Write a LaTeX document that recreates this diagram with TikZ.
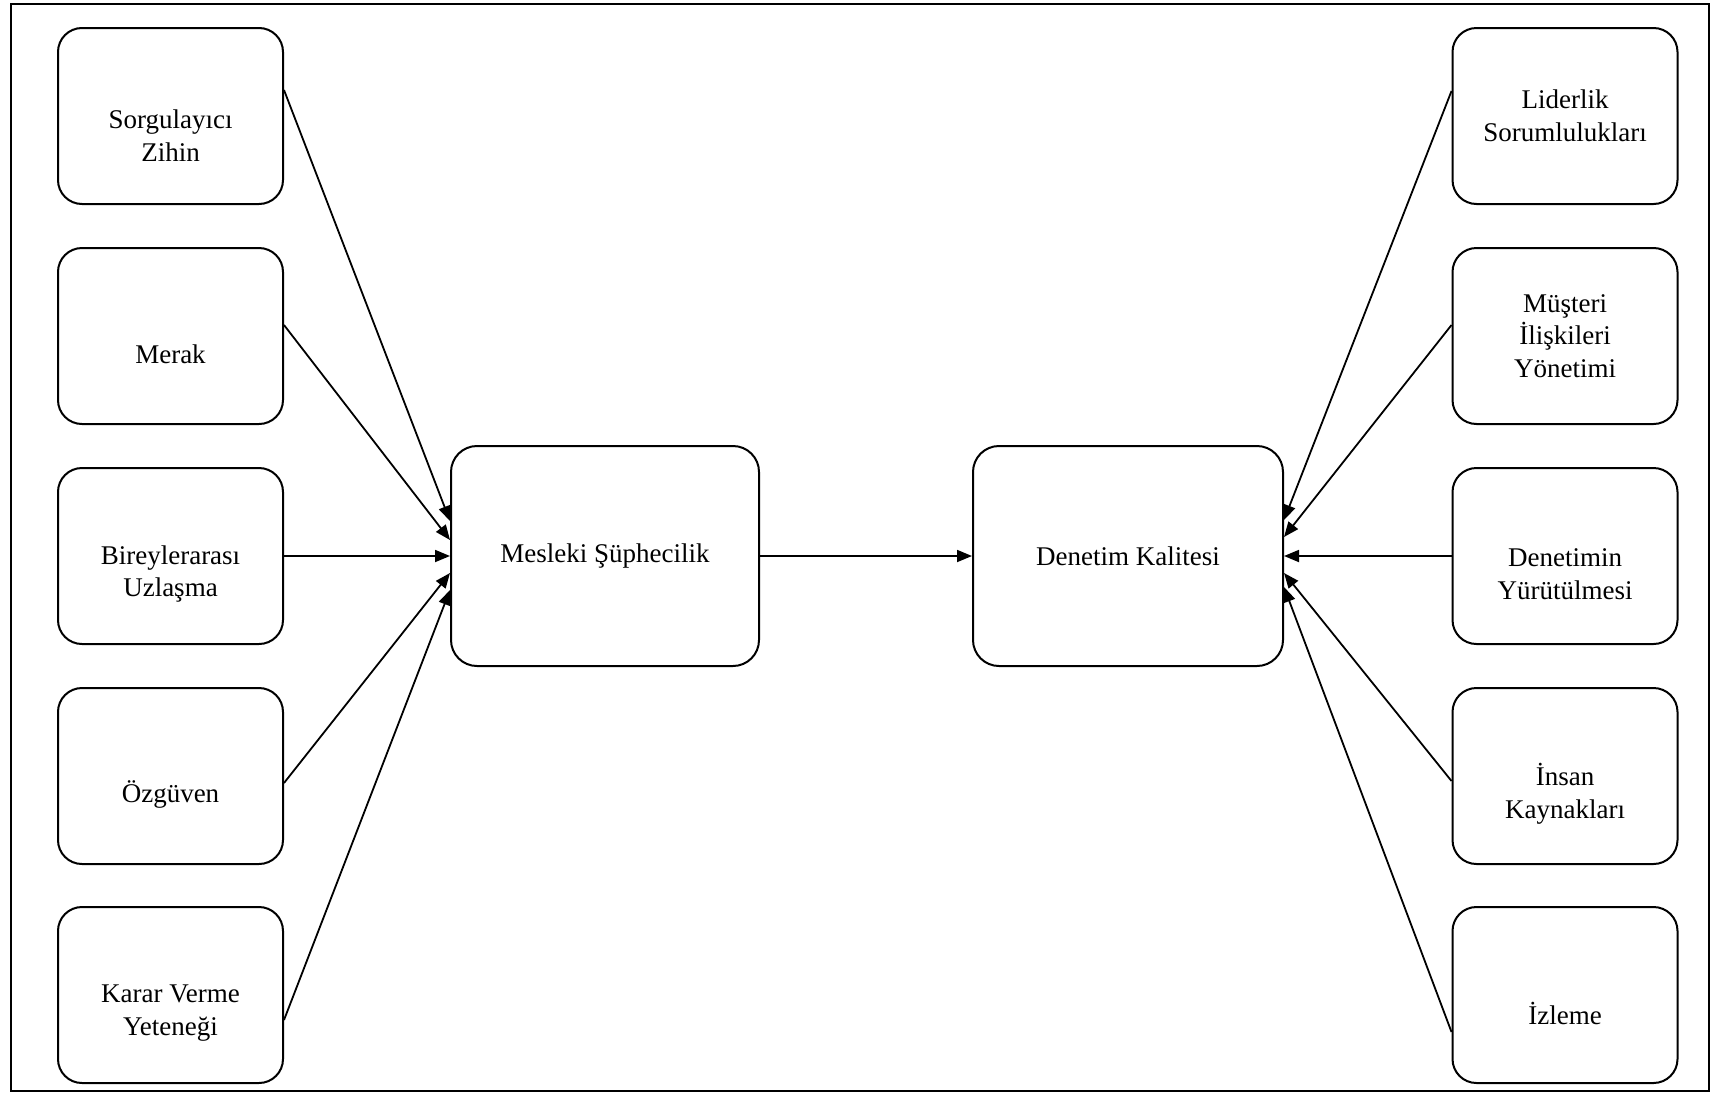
\documentclass[tikz,border=0pt]{standalone}
\usepackage{fontspec}
\setmainfont{Liberation Serif}
\usetikzlibrary{arrows.meta}
\begin{document}
\begin{tikzpicture}[x=0.5pt,y=-0.5pt,
  box/.style={draw,line width=1pt,rounded corners=12pt,minimum width=112.5pt,minimum height=88pt,inner sep=0pt},
  bigbox/.style={draw,line width=1pt,rounded corners=13pt,minimum width=154pt,minimum height=110pt,inner sep=0pt,font=\fontsize{13.5}{16.4}\selectfont},
  txt/.style={font=\fontsize{13.5}{16.4}\selectfont,align=center},
  conn/.style={line width=0.9pt,-{Triangle[length=7.5pt,width=6pt]}}]
\useasboundingbox (0,0) rectangle (1711,1092);
\draw[line width=0.9pt] (11,4) rectangle (1709,1091);
% left boxes
\node[box,label={[txt,yshift=-10pt]center:Sorgulayıcı\\Zihin}] (sz) at (170.5,116) {};
\node[box,label={[txt,yshift=-9pt]center:Merak}] (mk) at (170.5,336) {};
\node[box,label={[txt,yshift=-9pt]center:Bireylerarası\\Uzlaşma}] (bu) at (170.5,556) {};
\node[box,label={[txt,yshift=-9pt]center:Özgüven}] (oz) at (170.5,776) {};
\node[box,label={[txt,yshift=-9pt]center:Karar Verme\\Yeteneği}] (kv) at (170.5,995) {};
% right boxes
\node[box,label={[txt]center:Liderlik\\Sorumlulukları}] (ls) at (1565,116) {};
\node[box,label={[txt]center:Müşteri\\İlişkileri\\Yönetimi}] (mi) at (1565,336) {};
\node[box,label={[txt,yshift=-9pt]center:Denetimin\\Yürütülmesi}] (dy) at (1565,556) {};
\node[box,label={[txt,yshift=-9pt]center:İnsan\\Kaynakları}] (ik) at (1565,776) {};
\node[box,label={[txt,yshift=-9pt]center:İzleme}] (iz) at (1565,995) {};
% middle
\node[bigbox] (ms) at (605,556) {Mesleki Şüphecilik};
\node[bigbox,minimum width=155pt] (dk) at (1128,556) {Denetim Kalitesi};
% connectors left
\draw[conn] ([yshift=13pt]sz.east) -- ([yshift=17.5pt]ms.west);
\draw[conn] ([yshift=5.5pt]mk.east) -- ([yshift=8pt]ms.west);
\draw[conn] (bu.east) -- (ms.west);
\draw[conn] ([yshift=-3.5pt]oz.east) -- ([yshift=-8.5pt]ms.west);
\draw[conn] ([yshift=-12.5pt]kv.east) -- ([yshift=-17pt]ms.west);
% middle connector
\draw[conn] (ms.east) -- (dk.west);
% connectors right
\draw[conn] ([yshift=12.5pt]ls.west) -- ([yshift=18pt]dk.east);
\draw[conn] ([yshift=5.5pt]mi.west) -- ([yshift=9.5pt]dk.east);
\draw[conn] (dy.west) -- (dk.east);
\draw[conn] ([yshift=-2.5pt]ik.west) -- ([yshift=-8.5pt]dk.east);
\draw[conn] ([yshift=-18.5pt]iz.west) -- ([yshift=-15.5pt]dk.east);
\end{tikzpicture}
\end{document}
